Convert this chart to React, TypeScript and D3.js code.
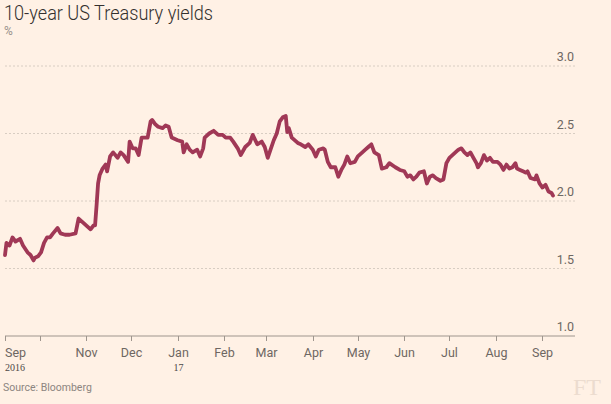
import React from "react";
import * as d3 from "d3";

const dates: string[] = [
  "2016-09-08","2016-09-09","2016-09-11","2016-09-13","2016-09-15","2016-09-18","2016-09-20","2016-09-23","2016-09-25","2016-09-27","2016-09-28","2016-09-30",
  "2016-10-02","2016-10-04","2016-10-06","2016-10-08","2016-10-10","2016-10-13","2016-10-15","2016-10-18","2016-10-21","2016-10-25","2016-10-27","2016-10-30",
  "2016-11-04","2016-11-06","2016-11-07","2016-11-08","2016-11-09","2016-11-10","2016-11-12","2016-11-14","2016-11-15","2016-11-17","2016-11-19","2016-11-22","2016-11-24","2016-11-26","2016-11-29","2016-11-30",
  "2016-12-02","2016-12-04","2016-12-06","2016-12-08","2016-12-12","2016-12-14","2016-12-15","2016-12-17","2016-12-19","2016-12-22","2016-12-24","2016-12-26","2016-12-28",
  "2017-01-01","2017-01-04","2017-01-05","2017-01-07","2017-01-09","2017-01-11","2017-01-14","2017-01-16","2017-01-18","2017-01-19","2017-01-22","2017-01-25","2017-01-28","2017-01-31",
  "2017-02-02","2017-02-05","2017-02-07","2017-02-10","2017-02-12","2017-02-15","2017-02-18","2017-02-20","2017-02-23","2017-02-26","2017-02-28",
  "2017-03-02","2017-03-06","2017-03-08","2017-03-10","2017-03-12","2017-03-14","2017-03-15","2017-03-16","2017-03-18","2017-03-22","2017-03-24","2017-03-27","2017-03-29",
  "2017-04-01","2017-04-03","2017-04-05","2017-04-08","2017-04-09","2017-04-11","2017-04-13","2017-04-16","2017-04-18","2017-04-20","2017-04-22","2017-04-24","2017-04-26","2017-04-29",
  "2017-05-01","2017-05-04","2017-05-06","2017-05-08","2017-05-10","2017-05-12","2017-05-15","2017-05-17","2017-05-20","2017-05-22","2017-05-26","2017-05-29",
  "2017-06-01","2017-06-03","2017-06-05","2017-06-07","2017-06-09","2017-06-11","2017-06-14","2017-06-16","2017-06-18","2017-06-20","2017-06-22","2017-06-25","2017-06-27","2017-06-28","2017-06-29",
  "2017-07-01","2017-07-03","2017-07-05","2017-07-07","2017-07-09","2017-07-11","2017-07-13","2017-07-15","2017-07-17","2017-07-19","2017-07-20","2017-07-22","2017-07-24","2017-07-26","2017-07-28","2017-07-30",
  "2017-08-02","2017-08-04","2017-08-06","2017-08-08","2017-08-10","2017-08-12","2017-08-14","2017-08-15","2017-08-17","2017-08-19","2017-08-21","2017-08-22","2017-08-24","2017-08-27","2017-08-28","2017-08-30",
  "2017-09-01","2017-09-03","2017-09-05","2017-09-07","2017-09-08",
];

const yields: number[] = [
  1.60, 1.69, 1.67, 1.73, 1.70, 1.72, 1.67, 1.62, 1.60, 1.56, 1.58, 1.59,
  1.62, 1.69, 1.73, 1.73, 1.76, 1.80, 1.76, 1.75, 1.75, 1.76, 1.87, 1.84,
  1.79, 1.82, 1.82, 1.97, 2.13, 2.19, 2.24, 2.27, 2.22, 2.33, 2.36, 2.32, 2.36, 2.34, 2.29, 2.44,
  2.39, 2.39, 2.34, 2.47, 2.47, 2.59, 2.60, 2.57, 2.55, 2.54, 2.56, 2.55, 2.47,
  2.45, 2.44, 2.36, 2.42, 2.38, 2.36, 2.38, 2.33, 2.39, 2.47, 2.50, 2.52, 2.49, 2.49,
  2.47, 2.47, 2.44, 2.39, 2.34, 2.40, 2.43, 2.49, 2.42, 2.44, 2.40,
  2.32, 2.45, 2.50, 2.59, 2.62, 2.63, 2.51, 2.54, 2.47, 2.43, 2.42, 2.40, 2.42,
  2.38, 2.33, 2.38, 2.39, 2.38, 2.29, 2.25, 2.25, 2.18, 2.23, 2.27, 2.33, 2.28, 2.29,
  2.33, 2.36, 2.38, 2.40, 2.42, 2.36, 2.34, 2.24, 2.25, 2.28, 2.25, 2.23,
  2.22, 2.18, 2.19, 2.16, 2.18, 2.21, 2.22, 2.13, 2.18, 2.19, 2.17, 2.15, 2.16, 2.22, 2.28,
  2.32, 2.34, 2.36, 2.38, 2.39, 2.36, 2.34, 2.36, 2.32, 2.28, 2.25, 2.28, 2.34, 2.30, 2.32, 2.29,
  2.29, 2.27, 2.23, 2.27, 2.24, 2.25, 2.28, 2.24, 2.23, 2.22, 2.21, 2.22, 2.17, 2.16, 2.19, 2.13,
  2.10, 2.12, 2.07, 2.06, 2.04,
];

const yTicks: number[] = [1.0, 1.5, 2.0, 2.5, 3.0];
const monthTicks: string[] = [
  "2016-09-08","2016-10-01","2016-11-01","2016-12-01","2017-01-01","2017-02-01","2017-03-01",
  "2017-04-01","2017-05-01","2017-06-01","2017-07-01","2017-08-01","2017-09-01",
];
const monthLabels: string[] = ["Sep","","Nov","Dec","Jan","Feb","Mar","Apr","May","Jun","Jul","Aug","Sep"];
const yearLabels: string[] = ["2016","","","","17","","","","","","","",""];
const domainDates: string[] = ["2016-09-08", "2017-09-08"];

const W = 611;
const H = 404;
const BG = "#fff1e5";
const LINE = "#a03856";
const SANS = "Roboto, 'Open Sans', sans-serif";

export default function App() {
  const parse = d3.timeParse("%Y-%m-%d");
  const x = d3
    .scaleTime()
    .domain(domainDates.map((d) => parse(d) as Date))
    .range([5, 553]);
  const y = d3.scaleLinear().domain([1, 3]).range([336, 66]);
  const data = dates.map((d, i) => ({ date: parse(d) as Date, v: yields[i] }));
  const line = d3
    .line<{ date: Date; v: number }>()
    .x((d) => x(d.date))
    .y((d) => y(d.v));
  const gridRight = 575;
  const axisColor = "#9e958d";

  return (
    <svg
      width={W}
      height={H}
      style={{ position: "fixed", left: 0, top: 0, display: "block" }}
    >
      <rect x={0} y={0} width={W} height={H} fill={BG} />
      <text
        x={4}
        y={20}
        fontFamily={SANS}
        fontWeight={300}
        fontSize={19.5}
        fill="#33302e"
        textLength={209}
        lengthAdjust="spacingAndGlyphs"
      >
        10-year US Treasury yields
      </text>
      <text x={4} y={35} fontFamily={SANS} fontSize={12} fill="#99918b">
        %
      </text>

      {yTicks.map((t) => (
        <g key={t}>
          {t > 1 && (
            <line
              x1={5}
              x2={gridRight}
              y1={y(t)}
              y2={y(t)}
              stroke="#d8cdc2"
              strokeWidth={1}
              strokeDasharray="2,2"
            />
          )}
          <text
            x={574}
            y={y(t) - 5}
            textAnchor="end"
            fontFamily={SANS}
            fontSize={12.5}
            fill="#6e6762"
          >
            {t.toFixed(1)}
          </text>
        </g>
      ))}

      <line x1={5} x2={gridRight} y1={y(1)} y2={y(1)} stroke={axisColor} strokeWidth={1} />
      {monthTicks.map((m, i) => {
        const xx = Math.round(x(parse(m) as Date)) + 0.5;
        const anchor = i === 0 ? "start" : "middle";
        return (
          <g key={m}>
            <line x1={xx} x2={xx} y1={y(1)} y2={y(1) + 5} stroke={axisColor} strokeWidth={1} />
            {monthLabels[i] && (
              <text
                x={i === 0 ? xx - 0.5 : xx}
                y={357}
                textAnchor={anchor}
                fontFamily={SANS}
                fontSize={12.5}
                fill="#6e6762"
              >
                {monthLabels[i]}
              </text>
            )}
            {yearLabels[i] && (
              <text
                x={i === 0 ? xx - 0.5 : xx}
                y={371}
                textAnchor={anchor}
                fontFamily="'Liberation Serif', 'DejaVu Serif', serif"
                fontSize={10}
                fill="#4d4845"
              >
                {yearLabels[i]}
              </text>
            )}
          </g>
        );
      })}

      <path
        d={line(data) || ""}
        fill="none"
        stroke={LINE}
        strokeWidth={3.8}
        strokeLinejoin="round"
        strokeLinecap="round"
      />

      <text x={3} y={391} fontFamily={SANS} fontSize={10.5} fill="#8c8580">
        Source: Bloomberg
      </text>
      <text
        x={601}
        y={395}
        textAnchor="end"
        fontFamily="'Liberation Serif', 'DejaVu Serif', serif"
        fontSize={24}
        fill="#ecdccf"
      >
        FT
      </text>
    </svg>
  );
}
